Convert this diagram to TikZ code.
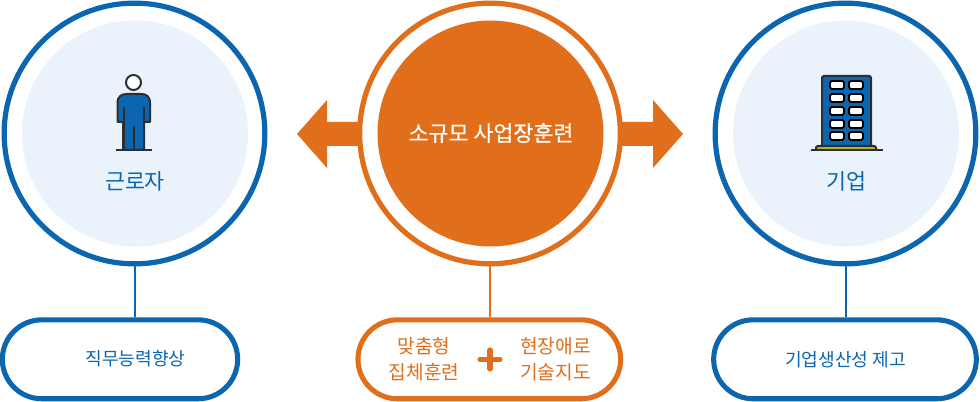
\documentclass[tikz,border=0pt]{standalone}
\usepackage{fontspec}
\setmainfont{Noto Sans CJK KR}
\newfontfamily\medkr[FakeBold=0.5]{Noto Sans CJK KR}
\usetikzlibrary{shapes.misc}
\definecolor{bluemain}{HTML}{0B66AF}
\definecolor{orangemain}{HTML}{E06E1A}
\definecolor{paleblue}{HTML}{EAF3FB}
\definecolor{iconblack}{HTML}{2B2E33}
\definecolor{olivebar}{HTML}{B3B32B}
\tikzset{
  ringblue/.style={circle,draw=bluemain,line width=3.9pt,minimum size=195.5pt,inner sep=0pt,fill=white},
  ringorange/.style={circle,draw=orangemain,line width=3.9pt,minimum size=195.5pt,inner sep=0pt,fill=white},
  discblue/.style={circle,fill=paleblue,minimum size=169.5pt,inner sep=0pt},
  discorange/.style={circle,fill=orangemain,minimum size=169.5pt,inner sep=0pt},
  pillblue/.style={rounded rectangle,draw=bluemain,line width=3.8pt,minimum height=59.2pt,inner sep=0pt,fill=white},
  pillorange/.style={rounded rectangle,draw=orangemain,line width=3.8pt,minimum height=59.2pt,inner sep=0pt,fill=white},
  linkblue/.style={draw=bluemain,line width=1.5pt},
  linkorange/.style={draw=orangemain,line width=1.5pt},
  biglabel/.style={font=\fontsize{16.3}{20}\selectfont,inner sep=0pt},
  smalllabel/.style={font=\fontsize{13.6}{19.5}\selectfont,inner sep=0pt,align=center},
  orangelabel/.style={font=\fontsize{14.4}{19.5}\selectfont,inner sep=0pt,align=center,text=orangemain},
  icon/.style={draw=iconblack,line width=1.5pt,line join=round},
  win/.style={draw=black,line width=1.3pt,fill=white,rounded corners=1.2pt},
}
\begin{document}
\begin{tikzpicture}[x=0.75pt,y=-0.75pt]
\useasboundingbox (0,0) rectangle (980,402);
% arrows
\fill[orangemain] (297,134) -- (327,100) -- (327,122) -- (370,122) -- (370,146) -- (327,146) -- (327,168) -- cycle;
\fill[orangemain] (683,134) -- (653,100) -- (653,122) -- (610,122) -- (610,146) -- (653,146) -- (653,168) -- cycle;
% pills
\node[pillblue,minimum width=176.5pt] (pa) at (120,359.3) {};
\node[pillorange,minimum width=197pt] (pb) at (489.3,359.3) {};
\node[pillblue,minimum width=197pt] (pc) at (845,359.3) {};
% rings
\node[ringblue] (ra) at (134.5,133.5) {};
\node[ringorange] (rb) at (490,133.5) {};
\node[ringblue] (rc) at (845.5,133.5) {};
\draw[linkblue] (ra.south) -- (ra.south |- pa.north);
\draw[linkorange] (rb.south) -- (rb.south |- pb.north);
\draw[linkblue] (rc.south) -- (rc.south |- pc.north);
\node[discblue] (da) at (135,133.5) {};
\node[discorange] (db) at (490.5,133.5) {};
\node[discblue] (dc) at (846,133.5) {};
% person
\draw[icon,fill=white] (133.5,82.5) circle (7.5);
\draw[icon,fill=bluemain] (123,122) -- (117.5,122) -- (117.5,103) .. controls (117.5,96) and (122,94) .. (127,94) -- (141,94) .. controls (146,94) and (150,96) .. (150,103) -- (150,122) -- (144,122) -- (144,150) -- (123,150) -- cycle;
\draw[icon] (123.5,107) -- (123.5,150) (143.5,107) -- (143.5,150) (133.5,126) -- (133.5,150);
\draw[icon] (116,150.5) -- (152,150.5);
% building
\draw[icon,fill=bluemain,rounded corners=1.5pt] (822,146) -- (822,76) -- (871,76) -- (871,146);
\foreach \yy in {85,98,111,124,136}{
  \draw[win] (830,\yy-4) rectangle (844,\yy+4);
  \draw[win] (849,\yy-4) rectangle (863,\yy+4);
}
\draw[icon,fill=olivebar,rounded corners=1.5pt] (816,150.5) -- (816,146) -- (876,146) -- (876,150.5);
\draw[icon] (811,150.5) -- (883,150.5);
% labels
\node[biglabel,text=bluemain] (ta) at (135,181.5) {근로자};
\node[biglabel,text=white] (tb) at (491,133) {\medkr 소규모 사업장훈련};
\node[biglabel,text=bluemain] (tc) at (846.5,181) {기업};
\node[smalllabel,text=bluemain] (la) at (135.5,358.5) {직무능력향상};
\node[smalllabel,text=bluemain] (lc) at (845.5,360) {기업생산성 제고};
\node[orangelabel] (lb1) at (424,359) {맞춤형\\집체훈련};
\node[orangelabel] (lb2) at (555.5,359) {현장애로\\기술지도};
\draw[orangemain,line width=3.8pt,line cap=round] (480,359.5) -- (500,359.5) (490,350) -- (490,369);
\end{tikzpicture}
\end{document}
